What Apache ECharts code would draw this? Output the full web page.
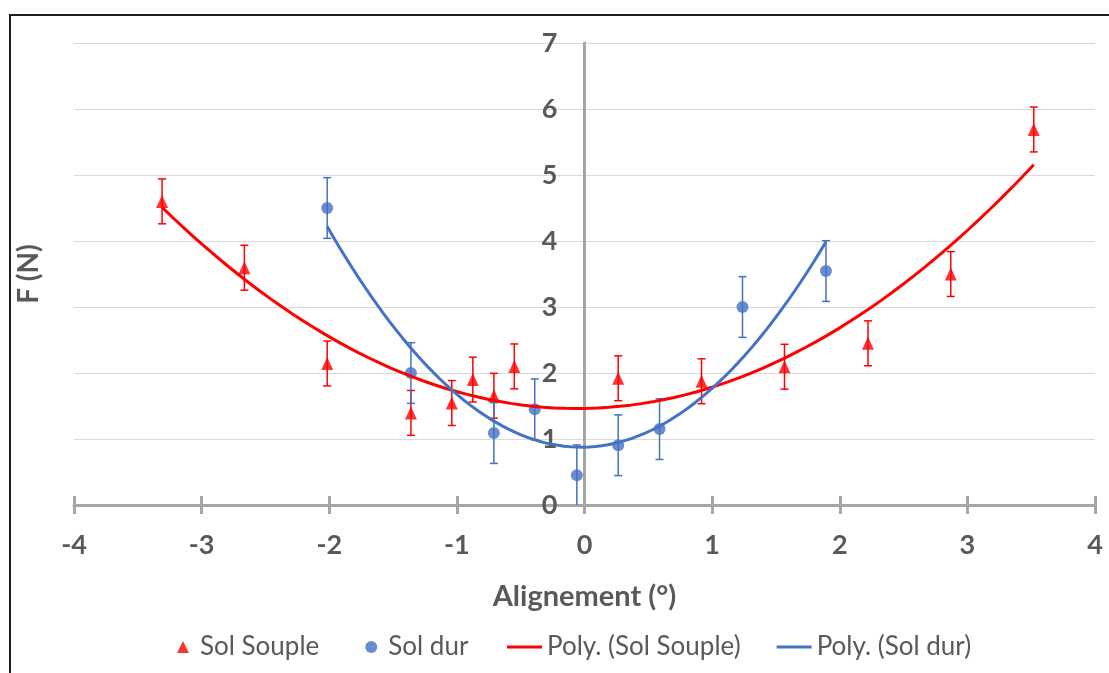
<!DOCTYPE html>
<html>
<head>
<meta charset="utf-8">
<script src="https://cdn.jsdelivr.net/npm/echarts@6/dist/echarts.min.js"></script>
<style>
  html, body { margin: 0; padding: 0; background: #ffffff; }
  #chart { position: absolute; left: 0; top: 0; width: 1109px; height: 673px; }
  #frame {
    position: absolute; left: 9px; top: 14px; width: 1200px; height: 800px;
    border-left: 2px solid #1e1e1e; border-top: 2px solid #1e1e1e;
    pointer-events: none; box-sizing: border-box;
  }
</style>
</head>
<body>
<div id="chart"></div>
<div id="frame"></div>
<script>
// Measurements: alignment angle (°) vs force F (N)
const xSouple = [-3.31, -2.665, -2.016, -1.36, -1.04, -0.875, -0.71, -0.55, 0.264, 0.917, 1.567, 2.221, 2.87, 3.52];
const ySouple = [4.60, 3.595, 2.145, 1.395, 1.545, 1.90, 1.655, 2.10, 1.92, 1.875, 2.095, 2.45, 3.50, 5.69];
const errSouple = [0.34, 0.34, 0.34, 0.34, 0.34, 0.34, 0.34, 0.34, 0.34, 0.34, 0.34, 0.34, 0.34, 0.34];

const xDur = [-2.016, -1.36, -0.71, -0.39, -0.06, 0.264, 0.588, 1.238, 1.892];
const yDur = [4.50, 2.0, 1.09, 1.45, 0.45, 0.905, 1.15, 3.0, 3.545];
const errDur = [0.46, 0.46, 0.46, 0.46, 0.46, 0.46, 0.46, 0.46, 0.46];

const xTicks = [-4, -3, -2, -1, 0, 1, 2, 3, 4];
const yTicks = [0, 1, 2, 3, 4, 5, 6, 7];

const RED = '#FF0000';
const BLUE = '#4472C4';
const TEXT = '#595959';
const AXIS = '#A6A6A6';
const FONT = 'Lato, "Open Sans", sans-serif';

// Plot rectangle
const GRID = { left: 74, right: 14, top: 43, bottom: 168 };
const PLOT_W = 1109 - GRID.left - GRID.right;

// Least-squares polynomial of order 2 (trendline)
function quadFit(xs, ys) {
  let s0 = 0, s1 = 0, s2 = 0, s3 = 0, s4 = 0, t0 = 0, t1 = 0, t2 = 0;
  for (let i = 0; i < xs.length; i++) {
    const x = xs[i], y = ys[i], x2 = x * x;
    s0 += 1; s1 += x; s2 += x2; s3 += x2 * x; s4 += x2 * x2;
    t0 += y; t1 += x * y; t2 += x2 * y;
  }
  const det3 = (m) =>
    m[0][0] * (m[1][1] * m[2][2] - m[1][2] * m[2][1]) -
    m[0][1] * (m[1][0] * m[2][2] - m[1][2] * m[2][0]) +
    m[0][2] * (m[1][0] * m[2][1] - m[1][1] * m[2][0]);
  const A = [[s0, s1, s2], [s1, s2, s3], [s2, s3, s4]];
  const b = [t0, t1, t2];
  const D = det3(A);
  const coef = [0, 1, 2].map(k => {
    const M = A.map((row, r) => row.map((v, c) => (c === k ? b[r] : v)));
    return det3(M) / D;
  });
  return coef; // c0 + c1 x + c2 x^2
}

function trendPoints(xs, ys, steps) {
  const c = quadFit(xs, ys);
  const lo = Math.min(...xs), hi = Math.max(...xs);
  const pts = [];
  for (let i = 0; i <= steps; i++) {
    const x = lo + (hi - lo) * i / steps;
    pts.push([x, c[0] + c[1] * x + c[2] * x * x]);
  }
  return pts;
}

const zip = (xs, ys) => xs.map((x, i) => [x, ys[i]]);
const bars = (xs, ys, es) => xs.map((x, i) => [x, ys[i] - es[i], ys[i] + es[i]]);

function errorBarRenderer(color) {
  return function (params, api) {
    const x = api.value(0);
    const lo = api.coord([x, api.value(1)]);
    const hi = api.coord([x, api.value(2)]);
    const cap = 4;
    const style = { stroke: color, lineWidth: 1.5 };
    return {
      type: 'group',
      children: [
        { type: 'line', shape: { x1: lo[0], y1: lo[1], x2: hi[0], y2: hi[1] }, style },
        { type: 'line', shape: { x1: hi[0] - cap, y1: hi[1], x2: hi[0] + cap, y2: hi[1] }, style },
        { type: 'line', shape: { x1: lo[0] - cap, y1: lo[1], x2: lo[0] + cap, y2: lo[1] }, style }
      ]
    };
  };
}

const xMin = xTicks[0], xMax = xTicks[xTicks.length - 1];
// distance (px) from the left edge of the plot to x = 0, where the vertical axis sits
const zeroOffset = PLOT_W * (0 - xMin) / (xMax - xMin);

const tickLabel = { color: TEXT, fontFamily: FONT, fontWeight: 'bold', fontSize: 27 };

const chart = echarts.init(document.getElementById('chart'), null, { renderer: 'canvas' });
chart.setOption({
  animation: false,
  backgroundColor: '#ffffff',
  textStyle: { fontFamily: FONT },
  grid: Object.assign({ containLabel: false, outerBoundsMode: 'none' }, GRID),
  legend: [
    {
      data: [
        { name: 'Sol Souple', icon: 'triangle' },
        { name: 'Sol dur', icon: 'circle' }
      ],
      left: 172, top: 629,
      itemWidth: 12, itemHeight: 12, itemGap: 46,
      textStyle: { color: TEXT, fontFamily: FONT, fontSize: 26, padding: [0, 0, 0, 6] }
    },
    {
      data: [
        { name: 'Poly. (Sol Souple)', icon: 'rect' },
        { name: 'Poly. (Sol dur)', icon: 'rect' }
      ],
      left: 502, top: 629,
      itemWidth: 35, itemHeight: 3, itemGap: 36,
      textStyle: { color: TEXT, fontFamily: FONT, fontSize: 26 }
    }
  ],
  xAxis: [
    {
      type: 'value', min: xMin, max: xMax, interval: 1,
      position: 'bottom',
      axisLine: { show: true, onZero: false, lineStyle: { color: AXIS, width: 3 } },
      axisTick: { show: true, length: 9, lineStyle: { color: AXIS, width: 3 } },
      axisLabel: Object.assign({ margin: 27 }, tickLabel),
      splitLine: { show: false },
      name: 'Alignement (°)', nameLocation: 'middle', nameGap: 77,
      nameTextStyle: { color: TEXT, fontFamily: FONT, fontWeight: 'bold', fontSize: 29 }
    },
    {
      type: 'value', min: xMin, max: xMax, interval: 1,
      position: 'bottom',
      axisLine: { show: false, onZero: false },
      axisTick: { show: true, inside: true, length: 9, lineStyle: { color: AXIS, width: 3 } },
      axisLabel: { show: false },
      splitLine: { show: false }
    }
  ],
  yAxis: [
    {
      type: 'value', min: yTicks[0], max: yTicks[yTicks.length - 1], interval: 1,
      position: 'left', offset: -zeroOffset,
      axisLine: { show: true, onZero: false, lineStyle: { color: AXIS, width: 3 } },
      axisTick: { show: false },
      axisLabel: Object.assign({ margin: 27 }, tickLabel),
      splitLine: { show: true, lineStyle: { color: '#D9D9D9', width: 1 } }
    },
    {
      type: 'value', min: yTicks[0], max: yTicks[yTicks.length - 1], interval: 1,
      position: 'left',
      axisLine: { show: false, onZero: false },
      axisTick: { show: false },
      axisLabel: { show: false },
      splitLine: { show: false },
      name: 'F (N)', nameLocation: 'middle', nameGap: 31,
      nameTextStyle: { color: TEXT, fontFamily: FONT, fontWeight: 'bold', fontSize: 28 }
    }
  ],
  series: [
    {
      name: 'Sol Souple', type: 'scatter', data: zip(xSouple, ySouple),
      symbol: 'triangle', symbolSize: [12, 13],
      itemStyle: { color: RED }, z: 2
    },
    {
      name: 'Sol dur', type: 'scatter', data: zip(xDur, yDur),
      symbol: 'circle', symbolSize: 12,
      itemStyle: { color: BLUE }, z: 2
    },
    {
      name: 'errSouple', type: 'custom', data: bars(xSouple, ySouple, errSouple),
      renderItem: errorBarRenderer(RED), encode: { x: 0, y: [1, 2] }, clip: true, z: 3, silent: true
    },
    {
      name: 'errDur', type: 'custom', data: bars(xDur, yDur, errDur),
      renderItem: errorBarRenderer(BLUE), encode: { x: 0, y: [1, 2] }, clip: true, z: 3, silent: true
    },
    {
      name: 'Poly. (Sol Souple)', type: 'line', data: trendPoints(xSouple, ySouple, 80),
      showSymbol: false, symbol: 'none', smooth: false,
      lineStyle: { color: RED, width: 3 }, itemStyle: { color: RED }, z: 4
    },
    {
      name: 'Poly. (Sol dur)', type: 'line', data: trendPoints(xDur, yDur, 80),
      showSymbol: false, symbol: 'none', smooth: false,
      lineStyle: { color: BLUE, width: 3 }, itemStyle: { color: BLUE }, z: 4
    }
  ]
});
</script>
</body>
</html>
